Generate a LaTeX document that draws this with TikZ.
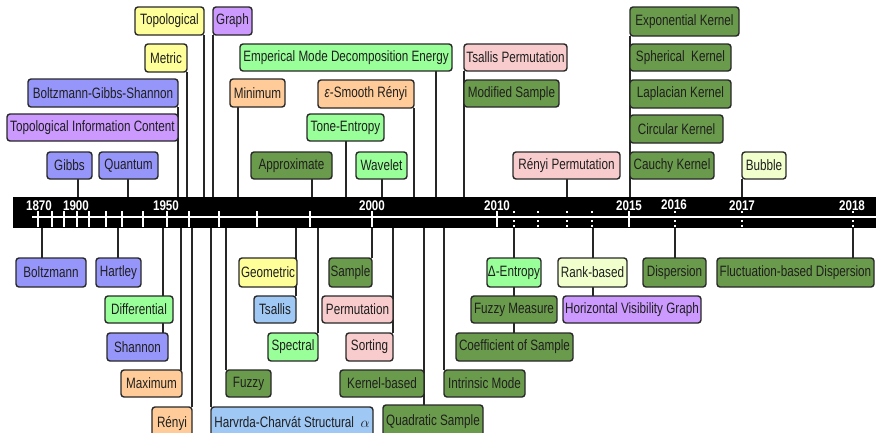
\documentclass[tikz,border=0pt]{standalone}
\usepackage{fontspec}
\setmainfont{Liberation Sans}
\newfontfamily\boxfont{Liberation Sans}[FakeStretch=0.78]
\newfontfamily\yearfont{Liberation Sans}[FakeStretch=0.83]
\definecolor{cblue}{RGB}{150,150,250}
\definecolor{cpurple}{RGB}{204,153,255}
\definecolor{cyellow}{RGB}{255,255,153}
\definecolor{clgreen}{RGB}{153,255,153}
\definecolor{cdgreen}{RGB}{106,154,75}
\definecolor{corange}{RGB}{255,204,153}
\definecolor{cpink}{RGB}{248,204,204}
\definecolor{clblue}{RGB}{160,200,245}
\definecolor{clyellow}{RGB}{240,255,204}
\definecolor{cborder}{RGB}{40,40,40}
\pgfdeclarelayer{bg}\pgfsetlayers{bg,main}
\tikzset{
  ebox/.style={draw=cborder, line width=1.4pt, rounded corners=3pt, inner sep=0pt, outer sep=0pt,
    anchor=north west, text=black!88, font=\boxfont\fontsize{15}{15}\selectfont},
  conn/.style={draw=black!85, line width=1.1pt},
  yearlbl/.style={text=white, inner sep=0pt, font=\yearfont\bfseries\fontsize{14}{14}\selectfont},
  tickw/.style={draw=white, line width=1.3pt},
  tickd/.style={draw=white, line width=1.3pt, dash pattern=on 2pt off 2.5pt}
}
\newcommand\bx[7]{\node[ebox, fill=#6, minimum width={#4-#2}, minimum height={#5-#3}] (#1) at (#2,#3) {#7};}
\newcommand\upline[2]{\coordinate (x#1) at (#2,0); \draw[conn] (#1.south -| x#1) -- (bar.north -| x#1);}
\newcommand\downline[2]{\coordinate (x#1) at (#2,0); \draw[conn] (#1.north -| x#1) -- (bar.south -| x#1);}
\begin{document}
\begin{tikzpicture}[x=1pt,y=-1pt]
\clip (0,0) rectangle (876,432);
\begin{pgfonlayer}{bg}
\fill[white] (0,0) rectangle (876,432);
\end{pgfonlayer}
% timeline bar
\node[fill=black, anchor=north west, minimum width=870, minimum height=31, inner sep=0pt, outer sep=0pt] (bar) at (13,197) {};
\draw[draw=white, line width=2pt] (32,217) -- (880,217);
\foreach \x in {38,52,64,77,89,106,122,143,167,189,219,257,310,372,497,629}
  \draw[tickw] (\x,211) -- (\x,227);
\foreach \x in {514,538,567,592,675,742,853}
  \draw[tickd] (\x,211) -- (\x,227);
\node[yearlbl] (y1870) at (39,206) {1870};
\node[yearlbl] (y1900) at (76,206) {1900};
\node[yearlbl] (y1950) at (166,206) {1950};
\node[yearlbl] (y2000) at (372,206) {2000};
\node[yearlbl] (y2010) at (497,206) {2010};
\node[yearlbl] (y2015) at (629,206) {2015};
\node[yearlbl] (y2016) at (674,205) {2016};
\node[yearlbl] (y2017) at (742,206) {2017};
\node[yearlbl] (y2018) at (852,206) {2018};
% top boxes
\bx{topo}{135}{7}{204}{35}{cyellow}{Topological}
\bx{graph}{213}{7}{252}{35}{cpurple}{Graph}
\bx{metric}{145}{44}{187}{72}{cyellow}{Metric}
\bx{bgs}{28}{79}{178}{107}{cblue}{Boltzmann-Gibbs-Shannon}
\bx{tic}{7}{114}{178}{141}{cpurple}{Topological Information Content}
\bx{gibbs}{47}{152}{92}{179}{cblue}{Gibbs}
\bx{quantum}{99}{152}{158}{179}{cblue}{Quantum}
\bx{minimum}{230}{79}{285}{107}{corange}{Minimum}
\bx{emde}{240}{44}{452}{71}{clgreen}{Emperical Mode Decomposition Energy}
\bx{approx}{251}{152}{332}{179}{cdgreen}{Approximate}
\bx{esr}{318}{80}{414}{108}{corange}{{\itshape ε}-Smooth Rényi}
\bx{tone}{307}{114}{384}{141}{clgreen}{Tone-Entropy}
\bx{wavelet}{356}{152}{407}{179}{clgreen}{Wavelet}
\bx{tperm}{464}{44}{567}{71}{cpink}{Tsallis Permutation}
\bx{msample}{464}{80}{559}{107}{cdgreen}{Modified Sample}
\bx{rperm}{513}{152}{620}{179}{cpink}{Rényi Permutation}
\bx{expk}{630}{7}{739}{36}{cdgreen}{Exponential Kernel}
\bx{sphk}{630}{44}{731}{71}{cdgreen}{Spherical\ \ Kernel}
\bx{lapk}{630}{80}{731}{108}{cdgreen}{Laplacian Kernel}
\bx{circk}{630}{115}{723}{143}{cdgreen}{Circular Kernel}
\bx{cauk}{630}{152}{714}{179}{cdgreen}{Cauchy Kernel}
\bx{bubble}{742}{152}{786}{179}{clyellow}{Bubble}
% bottom boxes
\bx{boltz}{16}{258}{86}{287}{cblue}{Boltzmann}
\bx{hartley}{96}{258}{141}{287}{cblue}{Hartley}
\bx{diff}{105}{296}{173}{323}{clgreen}{Differential}
\bx{shannon}{107}{333}{168}{361}{cblue}{Shannon}
\bx{maximum}{121}{370}{182}{397}{corange}{Maximum}
\node[ebox, fill=corange, minimum width=40, minimum height=33] (renyi) at (152,407) {\raisebox{2.5pt}{Rényi}};
\node[ebox, fill=clblue, minimum width=162, minimum height=33] (harvrda) at (211,407) {\raisebox{2.5pt}{Harvrda-Charvát Structural \ $\alpha$}};
\bx{fuzzy}{226}{370}{271}{397}{cdgreen}{Fuzzy}
\bx{geometric}{239}{258}{297}{287}{cyellow}{Geometric}
\bx{tsallis}{254}{296}{296}{323}{clblue}{Tsallis}
\bx{spectral}{268}{333}{318}{361}{clgreen}{Spectral}
\bx{sample}{329}{258}{372}{287}{cdgreen}{Sample}
\bx{perm}{322}{296}{393}{323}{cpink}{Permutation}
\bx{sorting}{346}{333}{393}{361}{cpink}{Sorting}
\bx{kernel}{340}{370}{424}{397}{cdgreen}{Kernel-based}
\node[ebox, fill=cdgreen, minimum width=100, minimum height=33] (qsample) at (383,405) {\raisebox{2.5pt}{Quadratic Sample}};
\bx{intrinsic}{444}{370}{525}{397}{cdgreen}{Intrinsic Mode}
\bx{dentropy}{487}{258}{541}{287}{clgreen}{Δ-Entropy}
\bx{fmeasure}{471}{296}{557}{323}{cdgreen}{Fuzzy Measure}
\bx{coef}{456}{333}{573}{361}{cdgreen}{Coefficient of Sample}
\bx{rank}{558}{258}{627}{287}{clyellow}{Rank-based}
\bx{hvg}{563}{296}{701}{323}{cpurple}{Horizontal Visibility Graph}
\bx{disp}{643}{258}{706}{287}{cdgreen}{Dispersion}
\bx{fdisp}{717}{258}{874}{287}{cdgreen}{Fluctuation-based Dispersion}
% connectors
\begin{pgfonlayer}{bg}
\upline{topo}{204}
\upline{graph}{213}
\upline{metric}{187}
\upline{bgs}{178}
\upline{gibbs}{78}
\upline{quantum}{128}
\upline{minimum}{238}
\upline{emde}{436}
\upline{approx}{312}
\upline{esr}{414}
\upline{tone}{346}
\upline{wavelet}{382}
\upline{tperm}{464}
\upline{rperm}{567}
\upline{expk}{630}
\upline{bubble}{742}
\downline{boltz}{42}
\downline{hartley}{118}
\downline{shannon}{163}
\downline{maximum}{181}
\downline{renyi}{192}
\downline{harvrda}{211}
\downline{fuzzy}{226}
\downline{tsallis}{296}
\downline{spectral}{318}
\downline{sample}{372}
\downline{sorting}{393}
\downline{qsample}{424}
\downline{intrinsic}{444}
\downline{coef}{514}
\downline{hvg}{593}
\downline{disp}{675}
\downline{fdisp}{853}
\end{pgfonlayer}
\end{tikzpicture}
\end{document}
